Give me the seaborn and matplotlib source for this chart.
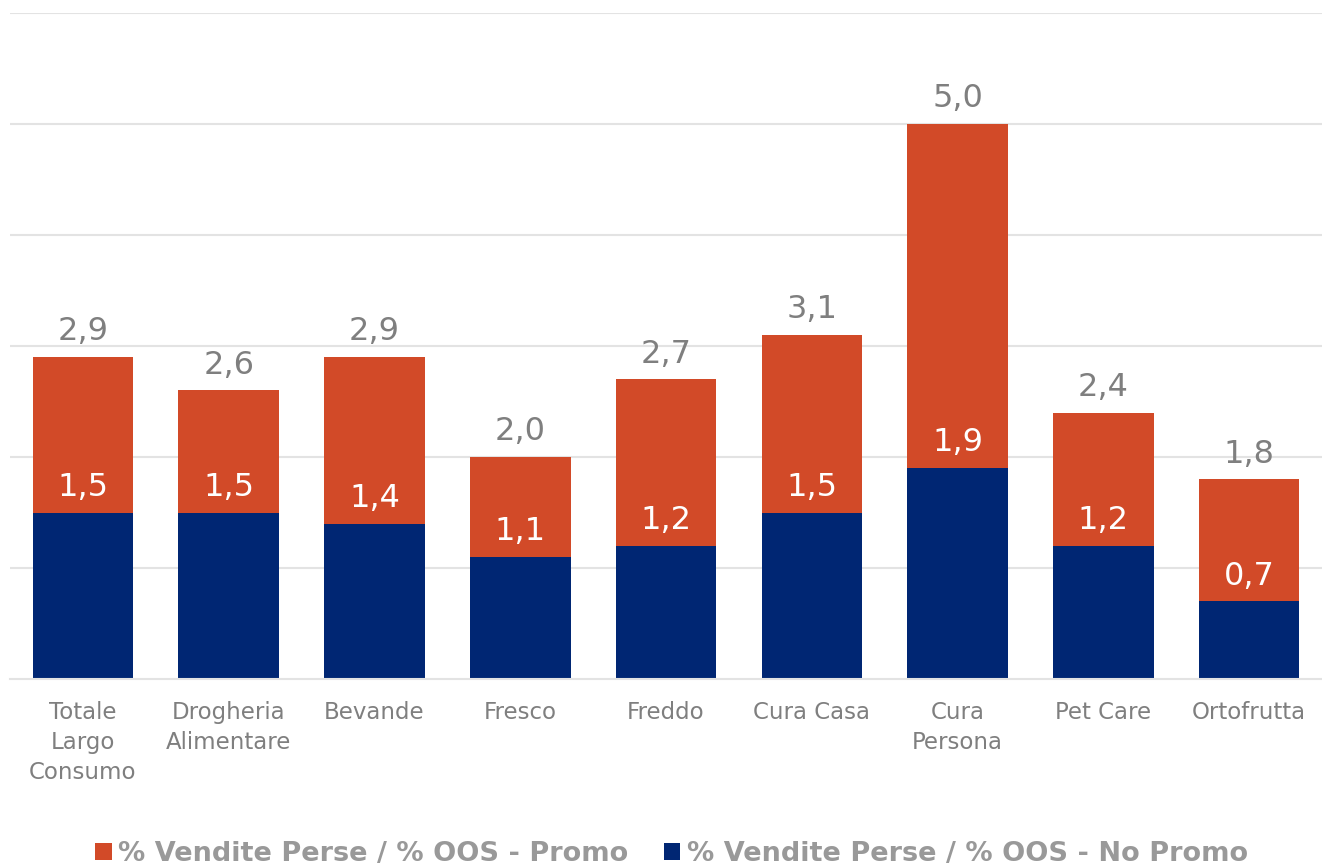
import matplotlib
matplotlib.use("Agg")
import matplotlib.pyplot as plt
import seaborn as sns
import pandas as pd

categories = ["Totale\nLargo\nConsumo", "Drogheria\nAlimentare", "Bevande", "Fresco",
              "Freddo", "Cura Casa", "Cura\nPersona", "Pet Care", "Ortofrutta"]
promo = [2.9, 2.6, 2.9, 2.0, 2.7, 3.1, 5.0, 2.4, 1.8]
no_promo = [1.5, 1.5, 1.4, 1.1, 1.2, 1.5, 1.9, 1.2, 0.7]
series_names = ["% Vendite Perse / % OOS - Promo", "% Vendite Perse / % OOS - No Promo"]

ORANGE = "#D24A28"
NAVY = "#002673"
GREY = "#7F7F7F"

sns.set_theme(style="white")
plt.rcParams["font.family"] = ["DejaVu Sans"]

df = pd.DataFrame({"cat": categories, "promo": promo, "no_promo": no_promo})

fig = plt.figure(figsize=(13.22, 8.67), dpi=100)
ax = fig.add_axes([0.0076, 0.2168, 0.9924, 0.7682])

sns.barplot(data=df, x="cat", y="promo", order=categories, color=ORANGE,
            saturation=1, width=0.69, linewidth=0, ax=ax, label=series_names[0])
sns.barplot(data=df, x="cat", y="no_promo", order=categories, color=NAVY,
            saturation=1, width=0.69, linewidth=0, ax=ax, label=series_names[1])

fmt = lambda v: f"{v:.1f}".replace(".", ",")
promo_bars = ax.containers[0]
nopromo_bars = ax.containers[1]
ax.bar_label(promo_bars, labels=[fmt(v) for v in promo], padding=7,
             fontsize=23, color=GREY)
ax.bar_label(nopromo_bars, labels=[fmt(v) for v in no_promo], padding=7,
             fontsize=23, color="white")

ax.set_ylim(0, 6)
ax.set_xlim(-0.5, len(categories) - 0.5)
ax.set_yticks([1, 2, 3, 4, 5, 6])
ax.set_yticklabels([])
ax.tick_params(axis="y", length=0)
ax.yaxis.grid(True, color="#E3E3E3", linewidth=1.5)
ax.set_axisbelow(True)
ax.set_xlabel("")
ax.set_ylabel("")
for s in ["top", "right", "left"]:
    ax.spines[s].set_visible(False)
ax.spines["bottom"].set_color("#E3E3E3")
ax.spines["bottom"].set_linewidth(1.5)
ax.tick_params(axis="x", length=0, pad=16, labelsize=16.5, labelcolor=GREY)
for t in ax.get_xticklabels():
    t.set_linespacing(1.37)
    t.set_verticalalignment("top")

handles, labels = ax.get_legend_handles_labels()
leg = fig.legend(handles, labels, loc="center", bbox_to_anchor=(0.508, 0.015),
                 ncol=2, frameon=False, handlelength=0.6, handleheight=0.6,
                 handletextpad=0.25, columnspacing=1.3,
                 prop={"size": 19.5, "weight": "bold"})
for txt in leg.get_texts():
    txt.set_color("#999999")
if ax.get_legend():
    ax.get_legend().remove()

fig.savefig("out.png", dpi=100)
